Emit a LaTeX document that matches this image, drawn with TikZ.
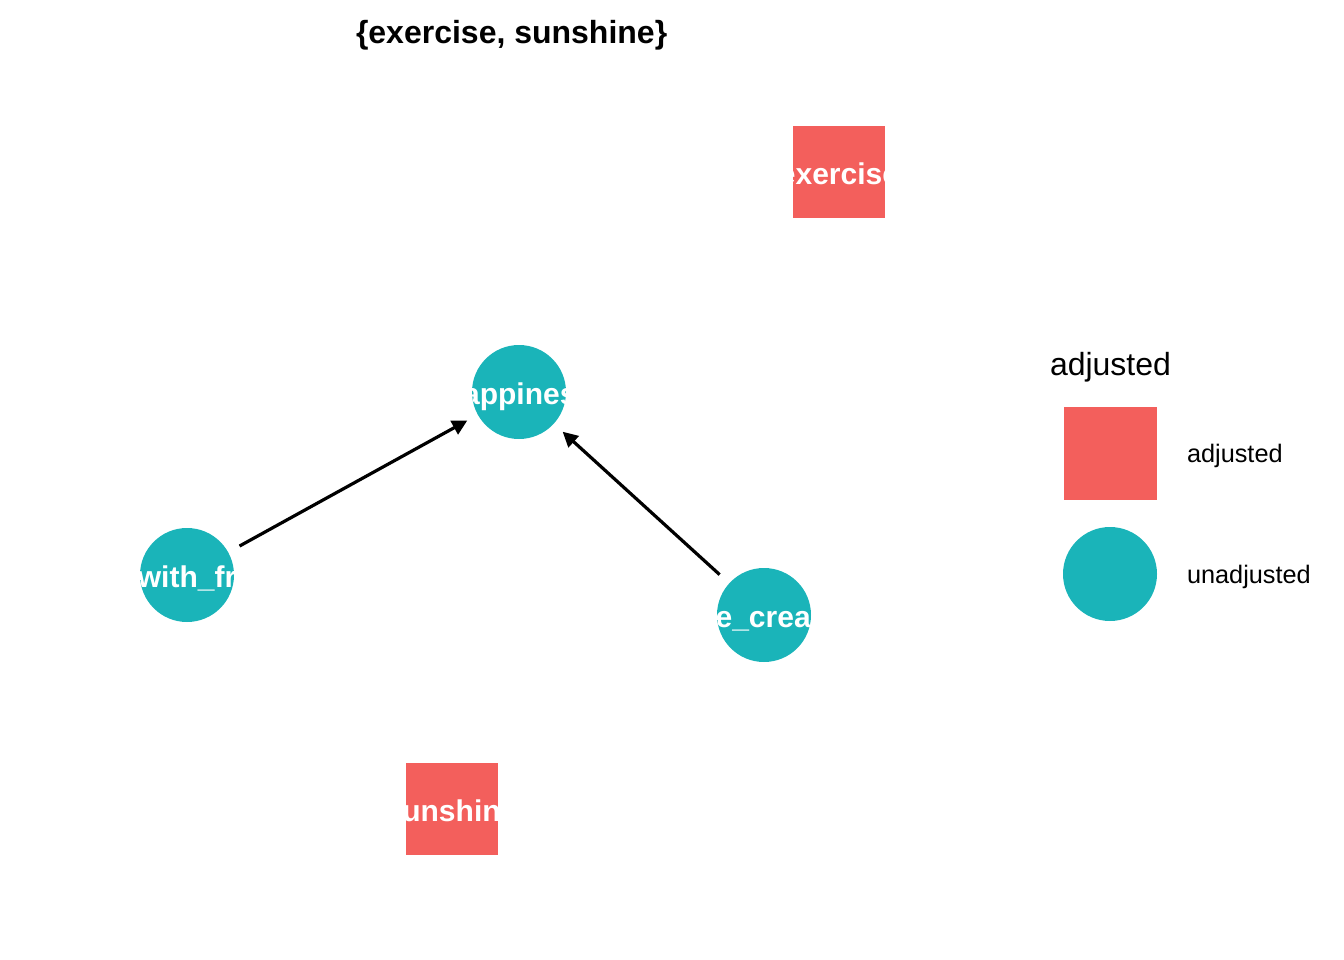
\documentclass[tikz,border=0pt]{standalone}
\usepackage{fontspec}
\setmainfont{Liberation Sans}
\usepackage{tikz}
\usetikzlibrary{positioning,arrows.meta}
\definecolor{adjred}{RGB}{243,95,92}
\definecolor{unadjteal}{RGB}{26,180,185}

\begin{document}
\begin{tikzpicture}[
  x=1pt, y=-1pt,
  every node/.style={inner sep=0pt, outer sep=0pt},
  varlabel/.style={path picture={\node[anchor=base, text=white, font=\fontsize{30}{32}\selectfont\bfseries]
      at ([yshift=-12pt]path picture bounding box.center) {#1};}},
  adj/.style={rectangle, fill=adjred, minimum size=92pt},
  unadj/.style={circle, fill=unadjteal, minimum size=94pt},
  edge/.style={-{Triangle[length=15pt,width=15pt]}, line width=3.2pt, shorten <=13pt, shorten >=12pt},
  legtext/.style={font=\fontsize{25.3}{28}\selectfont}
]
  \useasboundingbox (0,0) rectangle (1344,960);

  \node[anchor=base west, font=\fontsize{32}{36}\selectfont\bfseries] (title) at (356,44) {\{exercise, sunshine\}};

  \node[adj, varlabel=exercise] (exercise) at (839,172.5) {};
  \node[unadj, varlabel=happiness] (happiness) at (519,392) {};
  \node[unadj, varlabel=time\_with\_friends] (friends) at (187,575) {};
  \node[unadj, varlabel=ice\_cream] (icecream) at (764,615) {};
  \node[adj, varlabel=sunshine] (sunshine) at (451.5,809) {};

  \draw[edge] (friends) -- (happiness);
  \draw[edge] (icecream) -- (happiness);

  % legend
  \node[anchor=base west, font=\fontsize{32}{36}\selectfont] (legtitle) at (1050,375) {adjusted};
  \node[adj, minimum size=93pt] (legadj) at (1110.5,453) {};
  \node[unadj] (legunadj) at (1110,574) {};
  \node[legtext, right=30pt of legadj, yshift=-3pt] (legadjtext) {adjusted};
  \node[legtext, right=30pt of legunadj, yshift=-3pt] (legunadjtext) {unadjusted};
\end{tikzpicture}
\end{document}
